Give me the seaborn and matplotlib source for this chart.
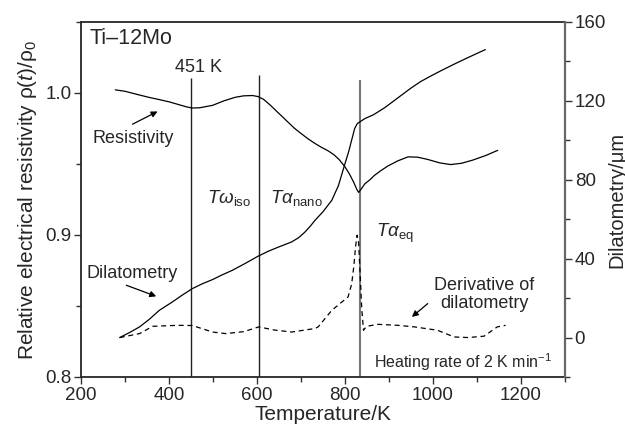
import matplotlib
matplotlib.use("Agg")
import matplotlib.pyplot as plt
import seaborn as sns
import pandas as pd
from matplotlib.ticker import MultipleLocator

# ---- data ----
res_T = [278, 300, 330, 356, 380, 401, 420, 440, 453, 470, 499, 525, 551, 570, 590,
         602, 615, 630, 645, 657, 672, 685, 700, 717, 730, 745, 762, 775, 787, 800,
         810, 820, 827, 831, 836, 845, 857, 867, 880, 897, 920, 943, 965, 988, 1015,
         1040, 1065, 1090, 1120, 1147]
res_rho = [1.0022, 1.0012, 0.9988, 0.9968, 0.9952, 0.9937, 0.9920, 0.9902, 0.9894,
           0.9896, 0.9913, 0.9945, 0.9970, 0.9980, 0.9982, 0.9975, 0.9955, 0.9915,
           0.9870, 0.9835, 0.9790, 0.9752, 0.9715, 0.9675, 0.9648, 0.9620, 0.9592,
           0.9565, 0.9530, 0.9480, 0.9430, 0.9370, 0.9320, 0.9300, 0.9320, 0.9360,
           0.9390, 0.9420, 0.9450, 0.9485, 0.9522, 0.9550, 0.9548, 0.9532, 0.9508,
           0.9496, 0.9505, 0.9527, 0.9560, 0.9596]

dil_T = [288, 310, 333, 355, 378, 408, 430, 453, 475, 499, 520, 544, 575, 602, 625,
         649, 679, 695, 709, 722, 732, 750, 770, 785, 800, 808, 815, 822, 828, 834,
         845, 865, 890, 920, 950, 972, 995, 1020, 1048, 1080, 1119]
dil_D = [0, 2.5, 5.4, 9.2, 13.8, 18.1, 21.5, 24.8, 27.2, 29.4, 31.7, 34.1, 37.8, 41.2,
         43.7, 45.9, 48.5, 50.7, 53.5, 56.7, 59.5, 63.8, 69.6, 77, 88.2, 94, 100, 106,
         108.5, 109.4, 111, 113, 116.5, 121.5, 126.5, 129.8, 132.6, 135.5, 138.6,
         142, 146]

der_T = [288, 333, 363, 420, 453, 499, 529, 570, 604, 640, 679, 732, 739, 770, 790, 807,
         815, 820, 824, 827.5, 831, 834, 838, 842, 849, 875, 920, 958, 1010, 1048, 1080,
         1116, 1146, 1165]
der_D = [0, 2, 5.7, 6.2, 6.1, 2.8, 2, 3, 5.4, 3.8, 2.8, 4.6, 5.4, 13.8, 17.5, 20.6,
         27, 36, 46, 51.9, 48, 34, 15, 3.7, 5.7, 6.7, 6.2, 5.4, 3.7, 0.3, 0, 0.7, 5.4, 6.2]

vline_T = [451, 605, 835]
vline_top = [1.0103, 1.0125, 1.009]

res_df = pd.DataFrame({"T": res_T, "rho": res_rho})
dil_df = pd.DataFrame({"T": dil_T, "D": dil_D})
der_df = pd.DataFrame({"T": der_T, "D": der_D})

sns.set_style("ticks")
plt.rcParams["font.family"] = ["Liberation Sans", "DejaVu Sans"]
plt.rcParams["mathtext.fontset"] = "custom"
plt.rcParams["mathtext.rm"] = "Liberation Sans"
plt.rcParams["mathtext.it"] = "Liberation Sans:italic"
plt.rcParams["mathtext.bf"] = "Liberation Sans:bold"

fig = plt.figure(figsize=(6.25, 4.37), dpi=100)
ax = fig.add_axes([0.1296, 0.1373, 0.7744, 0.8124])
ax2 = ax.twinx()

sns.lineplot(data=res_df, x="T", y="rho", ax=ax, color="black", lw=0.9, sort=False)
sns.lineplot(data=dil_df, x="T", y="D", ax=ax2, color="black", lw=0.9, sort=False)
sns.lineplot(data=der_df, x="T", y="D", ax=ax2, color="black", lw=0.9, sort=False,
             linestyle=(0, (4, 3)))

ax.set_xlim(200, 1300)
ax.set_ylim(0.8, 1.05)
ax2.set_ylim(-20, 160)

vcolors = ["#222222", "#222222", "#777777"]
vwidths = [1.0, 1.0, 1.5]
for t, top, c, w in zip(vline_T, vline_top, vcolors, vwidths):
    ax.vlines(t, 0.8, top, color=c, lw=w, zorder=1)

ax.set_xticks([200, 400, 600, 800, 1000, 1200])
ax.xaxis.set_minor_locator(MultipleLocator(100))
ax.set_yticks([0.8, 0.9, 1.0])
ax.set_yticklabels(["0.8", "0.9", "1.0"])
ax.yaxis.set_minor_locator(MultipleLocator(0.05))
ax2.set_yticks([0, 40, 80, 120, 160])
ax2.yaxis.set_minor_locator(MultipleLocator(20))

for a in (ax, ax2):
    a.tick_params(which="major", length=5, width=1, labelsize=13.5, pad=2, color="#333333")
    a.tick_params(which="minor", length=3.5, width=1, color="#333333")
    for s in a.spines.values():
        s.set_linewidth(1.3)
ax.spines["right"].set_visible(False)
ax2.spines["left"].set_visible(False)
ax2.spines["bottom"].set_visible(False)
ax2.spines["top"].set_visible(False)
ax2.spines["right"].set_color("#666666")
ax2.spines["right"].set_linewidth(1.6)

ax.set_xlabel("Temperature/K", fontsize=15, labelpad=1)
ax.set_ylabel(r"Relative electrical resistivity ρ($\mathit{t}$)/ρ$_{\mathit{0}}$",
              fontsize=15, labelpad=4)
ax2.set_ylabel("Dilatometry/μm", fontsize=14.5, labelpad=1)

ax.text(220, 1.0385, "Ti–12Mo", fontsize=15.5, ha="left", va="center")
ax.text(466, 1.0181, "451 K", fontsize=13, ha="center", va="center")
ax.text(225, 0.968, "Resistivity", fontsize=13, ha="left", va="center")
ax.text(213, 0.8732, "Dilatometry", fontsize=13, ha="left", va="center")
ax.text(487, 0.9257, r"$T\omega_{\mathrm{iso}}$", fontsize=13.5, ha="left", va="center")
ax.text(630, 0.9257, r"$T\alpha_{\mathrm{nano}}$", fontsize=13.5, ha="left", va="center")
ax.text(870, 0.901, r"$T\alpha_{\mathrm{eq}}$", fontsize=13.5, ha="left", va="center")
ax.text(1117, 0.858, "Derivative of\ndilatometry", fontsize=13, ha="center",
        va="center", linespacing=1.1)
ax.text(866, 0.8106, r"Heating rate of 2 K min$^{\mathrm{-1}}$", fontsize=11.5,
        ha="left", va="center")

arrow = dict(arrowstyle="-|>", lw=0.9, color="black", mutation_scale=9,
             shrinkA=0, shrinkB=0)
ax.annotate("", xy=(374, 0.987), xytext=(317, 0.978), arrowprops=arrow)
ax.annotate("", xy=(371, 0.8568), xytext=(303, 0.8646), arrowprops=arrow)
ax.annotate("", xy=(952, 0.8423), xytext=(988, 0.8517), arrowprops=arrow)

fig.savefig("out.png", dpi=100)
